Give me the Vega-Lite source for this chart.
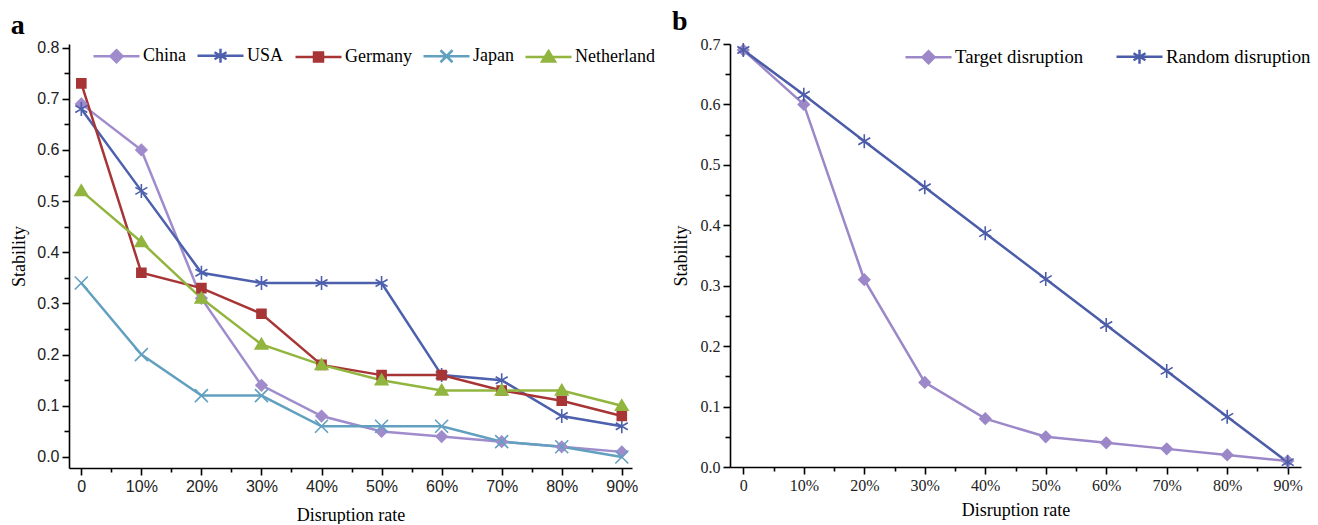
{
  "$schema": "https://vega.github.io/schema/vega-lite/v6.json",
  "padding": {"left": 10, "top": 8, "right": 0, "bottom": 0},
  "background": "white",
  "spacing": 17,
  "resolve": {"scale": {"color": "independent", "x": "independent", "y": "independent"}, "legend": {"color": "independent"}},
  "datasets": {
    "a": [
      {"rate": 0, "country": "China", "stability": 0.69},
      {"rate": 10, "country": "China", "stability": 0.60},
      {"rate": 20, "country": "China", "stability": 0.31},
      {"rate": 30, "country": "China", "stability": 0.14},
      {"rate": 40, "country": "China", "stability": 0.08},
      {"rate": 50, "country": "China", "stability": 0.05},
      {"rate": 60, "country": "China", "stability": 0.04},
      {"rate": 70, "country": "China", "stability": 0.03},
      {"rate": 80, "country": "China", "stability": 0.02},
      {"rate": 90, "country": "China", "stability": 0.01},
      {"rate": 0, "country": "USA", "stability": 0.68},
      {"rate": 10, "country": "USA", "stability": 0.52},
      {"rate": 20, "country": "USA", "stability": 0.36},
      {"rate": 30, "country": "USA", "stability": 0.34},
      {"rate": 40, "country": "USA", "stability": 0.34},
      {"rate": 50, "country": "USA", "stability": 0.34},
      {"rate": 60, "country": "USA", "stability": 0.16},
      {"rate": 70, "country": "USA", "stability": 0.15},
      {"rate": 80, "country": "USA", "stability": 0.08},
      {"rate": 90, "country": "USA", "stability": 0.06},
      {"rate": 0, "country": "Germany", "stability": 0.73},
      {"rate": 10, "country": "Germany", "stability": 0.36},
      {"rate": 20, "country": "Germany", "stability": 0.33},
      {"rate": 30, "country": "Germany", "stability": 0.28},
      {"rate": 40, "country": "Germany", "stability": 0.18},
      {"rate": 50, "country": "Germany", "stability": 0.16},
      {"rate": 60, "country": "Germany", "stability": 0.16},
      {"rate": 70, "country": "Germany", "stability": 0.13},
      {"rate": 80, "country": "Germany", "stability": 0.11},
      {"rate": 90, "country": "Germany", "stability": 0.08},
      {"rate": 0, "country": "Japan", "stability": 0.34},
      {"rate": 10, "country": "Japan", "stability": 0.20},
      {"rate": 20, "country": "Japan", "stability": 0.12},
      {"rate": 30, "country": "Japan", "stability": 0.12},
      {"rate": 40, "country": "Japan", "stability": 0.06},
      {"rate": 50, "country": "Japan", "stability": 0.06},
      {"rate": 60, "country": "Japan", "stability": 0.06},
      {"rate": 70, "country": "Japan", "stability": 0.03},
      {"rate": 80, "country": "Japan", "stability": 0.02},
      {"rate": 90, "country": "Japan", "stability": 0.0},
      {"rate": 0, "country": "Netherland", "stability": 0.52},
      {"rate": 10, "country": "Netherland", "stability": 0.42},
      {"rate": 20, "country": "Netherland", "stability": 0.31},
      {"rate": 30, "country": "Netherland", "stability": 0.22},
      {"rate": 40, "country": "Netherland", "stability": 0.18},
      {"rate": 50, "country": "Netherland", "stability": 0.15},
      {"rate": 60, "country": "Netherland", "stability": 0.13},
      {"rate": 70, "country": "Netherland", "stability": 0.13},
      {"rate": 80, "country": "Netherland", "stability": 0.13},
      {"rate": 90, "country": "Netherland", "stability": 0.10}
    ],
    "b": [
      {"rate": 0, "scenario": "Target disruption", "stability": 0.69},
      {"rate": 10, "scenario": "Target disruption", "stability": 0.60},
      {"rate": 20, "scenario": "Target disruption", "stability": 0.31},
      {"rate": 30, "scenario": "Target disruption", "stability": 0.14},
      {"rate": 40, "scenario": "Target disruption", "stability": 0.08},
      {"rate": 50, "scenario": "Target disruption", "stability": 0.05},
      {"rate": 60, "scenario": "Target disruption", "stability": 0.04},
      {"rate": 70, "scenario": "Target disruption", "stability": 0.03},
      {"rate": 80, "scenario": "Target disruption", "stability": 0.02},
      {"rate": 90, "scenario": "Target disruption", "stability": 0.01},
      {"rate": 0, "scenario": "Random disruption", "stability": 0.69},
      {"rate": 10, "scenario": "Random disruption", "stability": 0.616},
      {"rate": 20, "scenario": "Random disruption", "stability": 0.539},
      {"rate": 30, "scenario": "Random disruption", "stability": 0.463},
      {"rate": 40, "scenario": "Random disruption", "stability": 0.387},
      {"rate": 50, "scenario": "Random disruption", "stability": 0.311},
      {"rate": 60, "scenario": "Random disruption", "stability": 0.235},
      {"rate": 70, "scenario": "Random disruption", "stability": 0.159},
      {"rate": 80, "scenario": "Random disruption", "stability": 0.083},
      {"rate": 90, "scenario": "Random disruption", "stability": 0.008}
    ]
  },
  "hconcat": [
    {
      "width": 563,
      "height": 424,
      "title": {"text": "a", "anchor": "start", "frame": "bounds", "font": "Liberation Serif", "fontSize": 28, "fontWeight": "bold", "color": "black", "offset": 0},
      "data": {"name": "a"},
      "resolve": {"axis": {"x": "independent", "y": "independent"}},
      "layer": [
        {
          "mark": {"type": "line", "strokeWidth": 2.5},
          "encoding": {
            "x": {"field": "rate", "type": "quantitative",
              "scale": {"domain": [-2.05, 91.7], "nice": false, "zero": false},
              "axis": {"orient": "bottom", "values": [0, 10, 20, 30, 40, 50, 60, 70, 80, 90], "labelExpr": "datum.value == 0 ? '0' : datum.value + '%'", "labelFont": "Liberation Sans", "labelFontSize": 16, "title": "Disruption rate", "titlePadding": 12}},
            "y": {"field": "stability", "type": "quantitative",
              "scale": {"domain": [-0.0215, 0.807], "nice": false, "zero": false},
              "axis": {"orient": "left", "values": [0, 0.1, 0.2, 0.3, 0.4, 0.5, 0.6, 0.7, 0.8], "format": ".1f", "labelFont": "Liberation Sans", "labelFontSize": 16, "title": "Stability", "titlePadding": 8}},
            "color": {"field": "country", "type": "nominal",
              "scale": {"domain": ["China", "USA", "Germany", "Japan", "Netherland"], "range": ["#a08ccc", "#4d60ad", "#a83536", "#62a0c0", "#92b53f"]},
              "legend": {
                "orient": "none", "legendX": 36, "legendY": 0, "direction": "horizontal", "title": null,
                "labelFont": "Liberation Serif", "labelFontSize": 18, "labelColor": "black",
                "symbolSize": 400, "labelOffset": 15, "columnPadding": 6,
                "encode": {"symbols": {"update": {
                  "shape": {"signal": "datum.value === 'China' ? 'M-2.3,0L2.3,0M0,-0.6L0.6,0L0,0.6L-0.6,0Z' : datum.value === 'USA' ? 'M-2.3,0L2.3,0M0,-0.7L0,0.7M-0.6,-0.35L0.6,0.35M-0.6,0.35L0.6,-0.35' : datum.value === 'Germany' ? 'M-2.3,0L2.3,0M-0.45,-0.45L0.45,-0.45L0.45,0.45L-0.45,0.45Z' : datum.value === 'Japan' ? 'M-2.3,0L2.3,0M-0.6,-0.6L0.6,0.6M-0.6,0.6L0.6,-0.6' : 'M-2.3,0L2.3,0M0,-0.6L0.65,0.45L-0.65,0.45Z'"},
                  "fill": {"signal": "datum.value === 'China' ? '#a08ccc' : datum.value === 'USA' ? '#4d60ad' : datum.value === 'Germany' ? '#a83536' : datum.value === 'Japan' ? '#62a0c0' : '#92b53f'"},
                  "stroke": {"signal": "datum.value === 'China' ? '#a08ccc' : datum.value === 'USA' ? '#4d60ad' : datum.value === 'Germany' ? '#a83536' : datum.value === 'Japan' ? '#62a0c0' : '#92b53f'"},
                  "strokeWidth": {"value": 2.5},
                  "opacity": {"value": 1}
                }}}
              }}
          }
        },
        {
          "transform": [{"filter": "datum.country === 'China'"}],
          "mark": {"type": "point", "size": 100, "filled": true, "opacity": 1, "strokeWidth": 1.6, "shape": "M0,-1.1L1.1,0L0,1.1L-1.1,0Z", "fill": "#a08ccc", "stroke": "#a08ccc"},
          "encoding": {
            "x": {"field": "rate", "type": "quantitative",
              "axis": {"orient": "bottom", "values": [5, 15, 25, 35, 45, 55, 65, 75, 85], "labels": false, "domain": false, "tickSize": 4, "title": null}},
            "y": {"field": "stability", "type": "quantitative",
              "axis": {"orient": "left", "values": [0.05, 0.15, 0.25, 0.35, 0.45, 0.55, 0.65, 0.75], "labels": false, "domain": false, "tickSize": 5, "title": null}}
          }
        },
        {
          "transform": [{"filter": "datum.country === 'USA'"}],
          "mark": {"type": "point", "size": 100, "filled": true, "opacity": 1, "strokeWidth": 1.6, "shape": "M0,-1.4L0,1.4M-1.2,-0.7L1.2,0.7M-1.2,0.7L1.2,-0.7", "fill": "#4d60ad", "stroke": "#4d60ad"},
          "encoding": {
            "x": {"field": "rate", "type": "quantitative", "axis": null},
            "y": {"field": "stability", "type": "quantitative", "axis": null}
          }
        },
        {
          "transform": [{"filter": "datum.country === 'Germany'"}],
          "mark": {"type": "point", "size": 100, "filled": true, "opacity": 1, "strokeWidth": 1.6, "shape": "M-0.9,-0.9L0.9,-0.9L0.9,0.9L-0.9,0.9Z", "fill": "#a83536", "stroke": "#a83536"},
          "encoding": {
            "x": {"field": "rate", "type": "quantitative", "axis": null},
            "y": {"field": "stability", "type": "quantitative", "axis": null}
          }
        },
        {
          "transform": [{"filter": "datum.country === 'Japan'"}],
          "mark": {"type": "point", "size": 100, "filled": true, "opacity": 1, "strokeWidth": 1.6, "shape": "M-1.3,-1.3L1.3,1.3M-1.3,1.3L1.3,-1.3", "fill": "#62a0c0", "stroke": "#62a0c0"},
          "encoding": {
            "x": {"field": "rate", "type": "quantitative", "axis": null},
            "y": {"field": "stability", "type": "quantitative", "axis": null}
          }
        },
        {
          "transform": [{"filter": "datum.country === 'Netherland'"}],
          "mark": {"type": "point", "size": 100, "filled": true, "opacity": 1, "strokeWidth": 1.6, "shape": "M0,-1.2L1.25,0.9L-1.25,0.9Z", "fill": "#92b53f", "stroke": "#92b53f"},
          "encoding": {
            "x": {"field": "rate", "type": "quantitative", "axis": null},
            "y": {"field": "stability", "type": "quantitative", "axis": null}
          }
        }
      ]
    },
    {
      "width": 571,
      "height": 423,
      "title": {"text": "b", "anchor": "start", "frame": "bounds", "font": "Liberation Serif", "fontSize": 28, "fontWeight": "bold", "color": "black", "offset": 0},
      "data": {"name": "b"},
      "resolve": {"axis": {"x": "independent", "y": "independent"}},
      "layer": [
        {
          "mark": {"type": "line", "strokeWidth": 2.5},
          "encoding": {
            "x": {"field": "rate", "type": "quantitative",
              "scale": {"domain": [-2.2, 92.2], "nice": false, "zero": false},
              "axis": {"orient": "bottom", "values": [0, 10, 20, 30, 40, 50, 60, 70, 80, 90], "labelExpr": "datum.value == 0 ? '0' : datum.value + '%'", "labelFont": "Liberation Serif", "labelFontSize": 16, "title": "Disruption rate", "titlePadding": 8}},
            "y": {"field": "stability", "type": "quantitative",
              "scale": {"domain": [0, 0.7], "nice": false, "zero": false},
              "axis": {"orient": "left", "values": [0, 0.1, 0.2, 0.3, 0.4, 0.5, 0.6, 0.7], "format": ".1f", "labelFont": "Liberation Serif", "labelFontSize": 16, "title": "Stability", "titlePadding": 10}},
            "color": {"field": "scenario", "type": "nominal",
              "scale": {"domain": ["Target disruption", "Random disruption"], "range": ["#9c88c8", "#4b5ca8"]},
              "legend": {
                "orient": "none", "legendX": 187, "legendY": 1, "direction": "horizontal", "title": null,
                "labelFont": "Liberation Serif", "labelFontSize": 18.8, "labelColor": "black",
                "symbolSize": 400, "labelOffset": 15, "columnPadding": 27,
                "encode": {"symbols": {"update": {
                  "shape": {"signal": "datum.value === 'Target disruption' ? 'M-2.3,0L2.3,0M0,-0.6L0.6,0L0,0.6L-0.6,0Z' : 'M-2.3,0L2.3,0M0,-0.7L0,0.7M-0.6,-0.35L0.6,0.35M-0.6,0.35L0.6,-0.35'"},
                  "fill": {"signal": "datum.value === 'Target disruption' ? '#9c88c8' : '#4b5ca8'"},
                  "stroke": {"signal": "datum.value === 'Target disruption' ? '#9c88c8' : '#4b5ca8'"},
                  "strokeWidth": {"value": 2.5},
                  "opacity": {"value": 1}
                }}}
              }}
          }
        },
        {
          "transform": [{"filter": "datum.scenario === 'Target disruption'"}],
          "mark": {"type": "point", "size": 100, "filled": true, "opacity": 1, "strokeWidth": 1.6, "shape": "M0,-1.1L1.1,0L0,1.1L-1.1,0Z", "fill": "#9c88c8", "stroke": "#9c88c8"},
          "encoding": {
            "x": {"field": "rate", "type": "quantitative",
              "axis": {"orient": "bottom", "values": [5, 15, 25, 35, 45, 55, 65, 75, 85], "labels": false, "domain": false, "tickSize": 4, "title": null}},
            "y": {"field": "stability", "type": "quantitative",
              "axis": {"orient": "left", "values": [0.05, 0.15, 0.25, 0.35, 0.45, 0.55, 0.65], "labels": false, "domain": false, "tickSize": 5, "title": null}}
          }
        },
        {
          "transform": [{"filter": "datum.scenario === 'Random disruption'"}],
          "mark": {"type": "point", "size": 100, "filled": true, "opacity": 1, "strokeWidth": 1.6, "shape": "M0,-1.4L0,1.4M-1.2,-0.7L1.2,0.7M-1.2,0.7L1.2,-0.7", "fill": "#4b5ca8", "stroke": "#4b5ca8"},
          "encoding": {
            "x": {"field": "rate", "type": "quantitative", "axis": null},
            "y": {"field": "stability", "type": "quantitative", "axis": null}
          }
        }
      ]
    }
  ],
  "config": {
    "view": {"stroke": null},
    "axis": {
      "grid": false,
      "domainColor": "black", "domainWidth": 1.6,
      "tickColor": "black", "tickWidth": 1.6, "tickSize": 7,
      "labelColor": "#222222", "labelPadding": 3,
      "titleFont": "Liberation Serif", "titleFontSize": 18, "titleFontWeight": "normal", "titleColor": "black"
    },
    "legend": {"padding": 0}
  }
}
